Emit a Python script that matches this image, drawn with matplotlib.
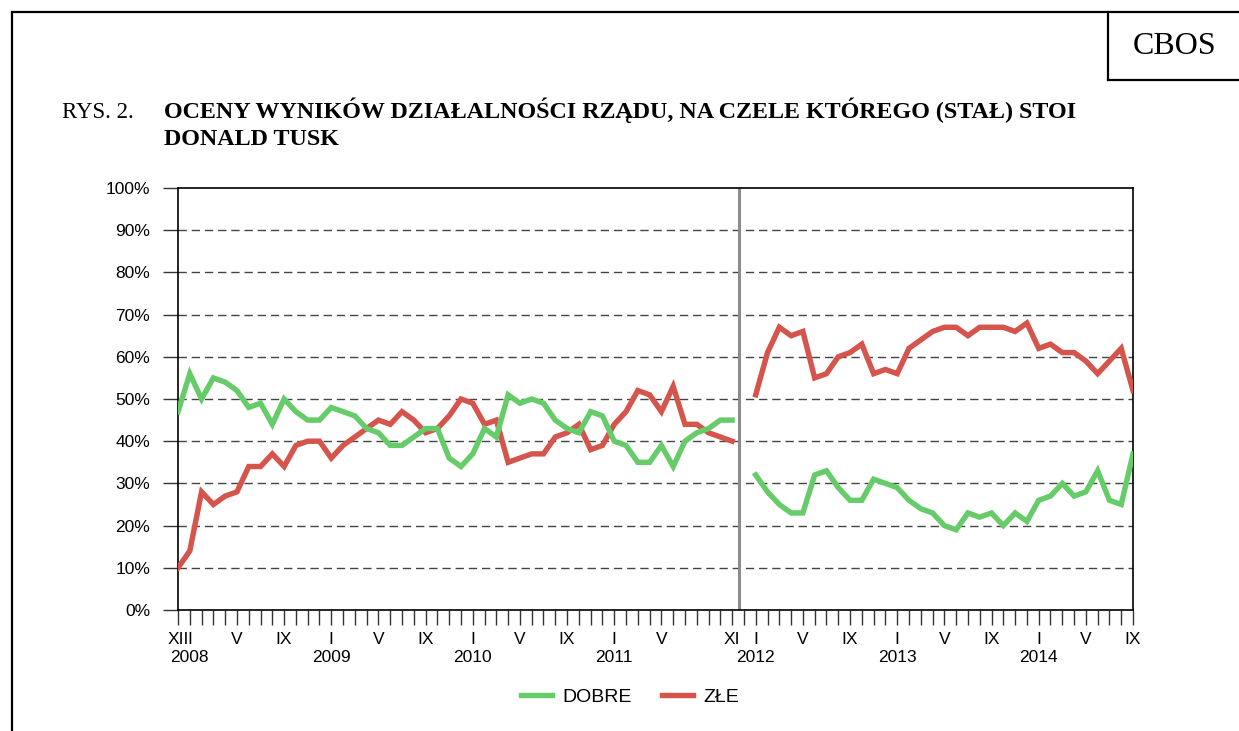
import numpy as np
import matplotlib
matplotlib.use("Agg")
import matplotlib.pyplot as plt
from matplotlib.lines import Line2D

# Oceny rzadu Donalda Tuska, CBOS, miesiace XII 2007 - IX 2014
# pierwszy rzad: XII 2007 - XI 2011, drugi rzad: I 2012 - IX 2014
dobre_1 = [47, 56, 50, 55, 54, 52, 48, 49, 44, 50,
           47, 45, 45, 48, 47, 46, 43, 42, 39, 39,
           41, 43, 43, 36, 34, 37, 43, 41, 51, 49,
           50, 49, 45, 43, 42, 47, 46, 40, 39, 35,
           35, 39, 34, 40, 42, 43, 45, 45]
zle_1 = [10, 14, 28, 25, 27, 28, 34, 34, 37, 34,
         39, 40, 40, 36, 39, 41, 43, 45, 44, 47,
         45, 42, 43, 46, 50, 49, 44, 45, 35, 36,
         37, 37, 41, 42, 44, 38, 39, 44, 47, 52,
         51, 47, 53, 44, 44, 42, 41, 40]
dobre_2 = [32, 28, 25, 23, 23, 32, 33, 29, 26, 26,
           31, 30, 29, 26, 24, 23, 20, 19, 23, 22,
           23, 20, 23, 21, 26, 27, 30, 27, 28, 33,
           26, 25, 37]
zle_2 = [51, 61, 67, 65, 66, 55, 56, 60, 61, 63,
         56, 57, 56, 62, 64, 66, 67, 67, 65, 67,
         67, 67, 66, 68, 62, 63, 61, 61, 59, 56,
         59, 62, 52]

# month index 0 = XII 2007
start_1 = 0
start_2 = 49
n_months = 82
divider = 47.6

month_labels = {0: "XII", 1: "I\n2008", 5: "V", 9: "IX", 13: "I\n2009", 17: "V",
                21: "IX", 25: "I\n2010", 29: "V", 33: "IX", 37: "I\n2011",
                41: "V", 47: "XI", 49: "I\n2012", 53: "V", 57: "IX",
                61: "I\n2013", 65: "V", 69: "IX", 73: "I\n2014", 77: "V", 81: "IX"}

GREEN = "#66cc6a"
RED = "#d5544b"
W, H = 1239, 731

plt.rcParams['font.family'] = ['Liberation Sans', 'DejaVu Sans']

fig = plt.figure(figsize=(W / 100, H / 100), dpi=100)


def fx(x):
    return x / W


def fy(y):
    return 1 - y / H


ax = fig.add_axes([fx(178), fy(610), fx(1133) - fx(178), fy(188) - fy(610)])

x1 = np.arange(start_1, start_1 + len(dobre_1))
x2 = np.arange(start_2, start_2 + len(dobre_2))
ax.plot(x1, dobre_1, color=GREEN, lw=3.9, solid_joinstyle='miter', zorder=4)
ax.plot(x1, zle_1, color=RED, lw=3.9, solid_joinstyle='miter', zorder=3)
ax.plot(x2, dobre_2, color=GREEN, lw=3.9, solid_joinstyle='miter', zorder=4)
ax.plot(x2, zle_2, color=RED, lw=3.9, solid_joinstyle='miter', zorder=3)

ax.axvline(divider, color="#8c8c8c", lw=2.2, zorder=2)

ax.set_xlim(0, n_months - 1)
ax.set_ylim(0, 100)

# grid
for v in range(10, 100, 10):
    ax.axhline(v, color="#444444", lw=1.0, ls=(0, (6, 3.5)), zorder=1)

ax.set_yticks(range(0, 101, 10))
ax.set_yticklabels(["%d%%" % v for v in range(0, 101, 10)])
ax.set_xticks(range(n_months))
ax.set_xticklabels([month_labels.get(i, "") for i in range(n_months)],
                   linespacing=1.2)
ax.tick_params(axis='both', direction='out', length=11, width=1,
               color="#333333", labelsize=12.5)
ax.tick_params(axis='y', pad=9)
ax.tick_params(axis='x', pad=5)
for s in ax.spines.values():
    s.set_linewidth(1.2)
    s.set_color("black")

# legend
handles = [Line2D([], [], color=GREEN, lw=3.9),
           Line2D([], [], color=RED, lw=3.9)]
fig.legend(handles, ["DOBRE", "ZŁE"], loc='center', ncol=2, frameon=False,
           bbox_to_anchor=(fx(630), fy(697)), fontsize=14,
           handlelength=1.6, handletextpad=0.5, columnspacing=1.6)

# page frame and CBOS box
frame = dict(color="black", lw=1.6, transform=fig.transFigure)
fig.add_artist(Line2D([fx(12), 1], [fy(12), fy(12)], **frame))
fig.add_artist(Line2D([fx(12), fx(12)], [fy(12), 0], **frame))
fig.add_artist(Line2D([fx(1108), fx(1108)], [fy(12), fy(80)], **frame))
fig.add_artist(Line2D([fx(1108), 1], [fy(80), fy(80)], **frame))
fig.text(fx(1175), fy(46), "CBOS", family="Liberation Serif", fontsize=23,
         ha='center', va='center')

# title
fig.text(fx(62), fy(118), "RYS. 2.", family="Liberation Serif", fontsize=16.5,
         ha='left', va='baseline')
fig.text(fx(164), fy(118),
         "OCENY WYNIKÓW DZIAŁALNOŚCI RZĄDU, NA CZELE KTÓREGO (STAŁ) STOI",
         family="Liberation Serif", fontweight='bold', fontsize=17.3,
         ha='left', va='baseline')
fig.text(fx(164), fy(145), "DONALD TUSK", family="Liberation Serif",
         fontweight='bold', fontsize=17.3, ha='left', va='baseline')

fig.savefig("out.png", dpi=100)
